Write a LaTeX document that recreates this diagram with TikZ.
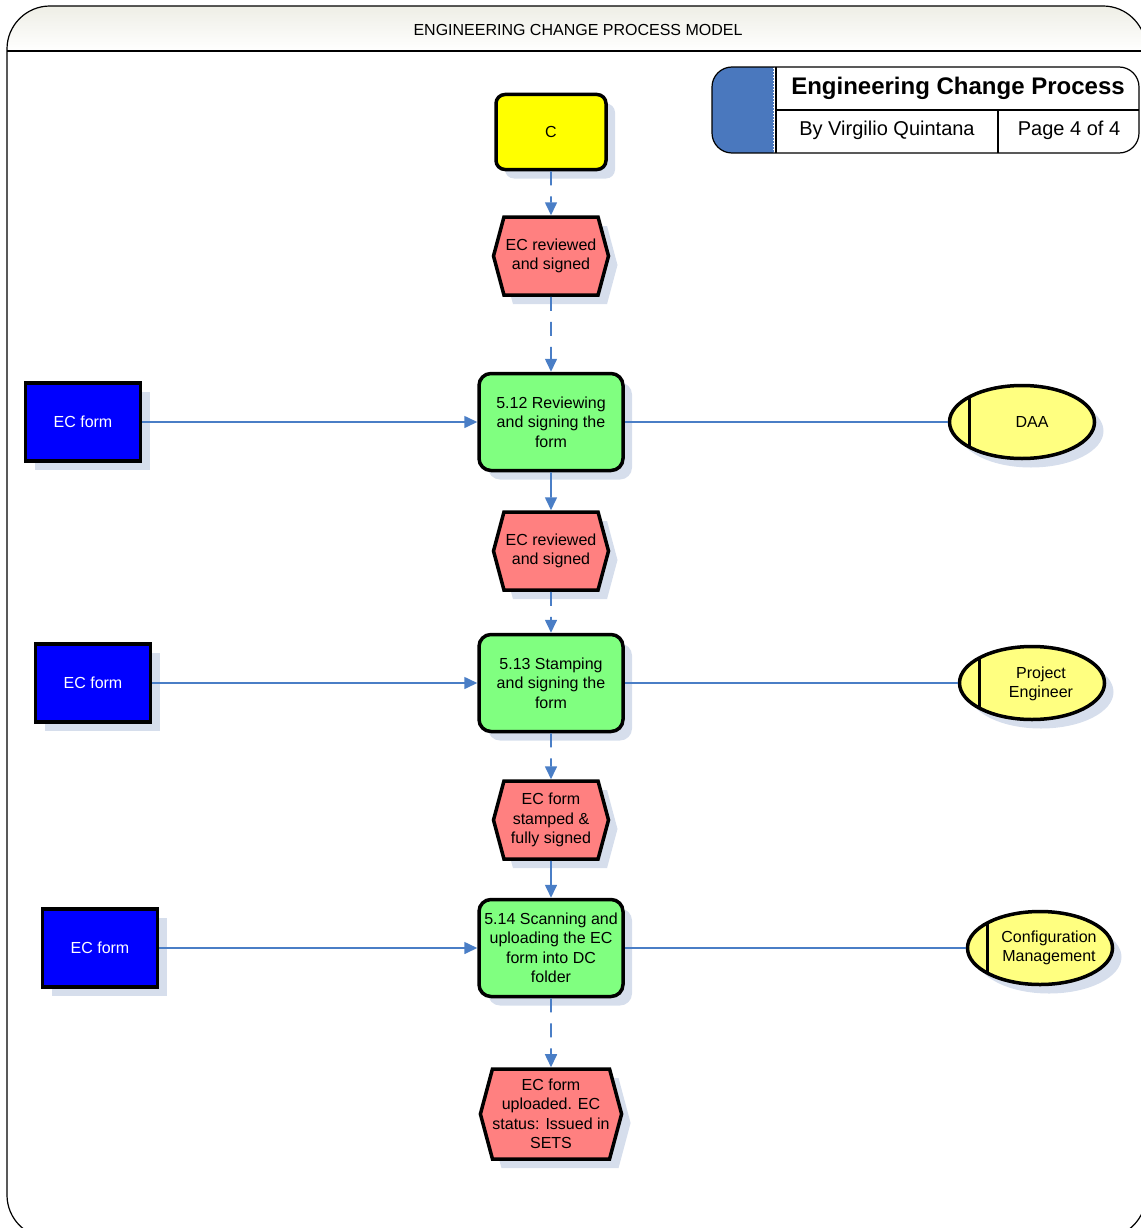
\documentclass[tikz,border=0pt]{standalone}
\usepackage{fontspec}
\setmainfont{Liberation Sans}
\usetikzlibrary{positioning,arrows.meta,shapes.geometric,shapes.symbols,shadows}
\definecolor{linkblue}{RGB}{74,126,198}
\definecolor{startyellow}{RGB}{255,255,0}
\definecolor{eventred}{RGB}{255,128,128}
\definecolor{funcgreen}{RGB}{128,255,128}
\definecolor{formblue}{RGB}{0,0,255}
\definecolor{roleyellow}{RGB}{255,255,128}
\definecolor{shadowc}{RGB}{214,222,236}
\definecolor{titleblue}{RGB}{74,120,190}
\definecolor{hdrtop}{RGB}{236,236,226}

\begin{document}
\begin{tikzpicture}[x=1pt,y=-1pt]
\tikzset{
  base/.style={draw,line width=3.5pt,font=\fontsize{16}{19.5}\selectfont,align=center,inner sep=0pt,
    drop shadow={shadow xshift=9pt,shadow yshift=-9pt,fill=shadowc,opacity=1}},
  startbox/.style={base,rounded corners=9pt,fill=startyellow,minimum width=110pt,minimum height=75pt},
  event/.style={base,signal,signal to=west and east,signal pointer angle=150,fill=eventred,minimum width=115pt,minimum height=78pt},
  func/.style={base,rounded corners=12pt,fill=funcgreen,minimum width=144pt,minimum height=97pt},
  form/.style={base,fill=formblue,text=white,minimum width=115pt,minimum height=78pt},
  role/.style={base,ellipse,fill=roleyellow,minimum width=145pt,minimum height=73pt,
    path picture={\draw[line width=3.5pt] ([xshift=20pt]path picture bounding box.north west) -- ([xshift=20pt]path picture bounding box.south west);}},
  rolelabel/.style={font=\fontsize{16}{19.5}\selectfont,align=center},
  link/.style={linkblue,line width=1.6pt},
  dashlink/.style={link,dash pattern=on 14pt off 11pt},
  tip/.style={-{Triangle[length=13pt,width=12pt]}}
}
\useasboundingbox (0,0) rectangle (1140,1228);

% frame and header
\begin{scope}
\clip[rounded corners=43pt] (7,6) rectangle (1146,1238);
\shade[top color=hdrtop,bottom color=white] (0,0) rectangle (1150,51);
\end{scope}
\draw[line width=1.2pt,rounded corners=43pt] (7,6) rectangle (1146,1238);
\draw[line width=1.2pt] (7,51) -- (1146,51);
\node[font=\fontsize{16}{19}\selectfont] (hdr) at (578,30) {ENGINEERING CHANGE PROCESS MODEL};

% title block
\begin{scope}
\clip[rounded corners=20pt] (712,67) rectangle (1139,153);
\fill[titleblue] (712,67) rectangle (774,153);
\end{scope}
\draw[line width=1.2pt,rounded corners=20pt] (712,67) rectangle (1139,153);
\draw[white,dotted,line width=1pt] (773,68) -- (773,152);
\draw[line width=1.2pt] (776,67) -- (776,153) (776,110) -- (1139,110) (998,110) -- (998,153);
\node[font=\fontsize{24}{28}\selectfont\bfseries] (ttl) at (958,88) {Engineering Change Process};
\node[font=\fontsize{20}{24}\selectfont] (auth) at (887,130) {By Virgilio Quintana};
\node[font=\fontsize{20}{24}\selectfont] (page) at (1069,130) {Page 4 of 4};

% main column
\node[startbox] (c) at (551,132) {C};
\node[event] (ev1) at (551,256) {EC reviewed\\and signed};
\node[func] (rev) at (551,422) {5.12 Reviewing\\and signing the\\form};
\node[event] (ev2) at (551,551) {EC reviewed\\and signed};
\node[func] (stamp) at (551,683) {5.13 Stamping\\and signing the\\form};
\node[event] (ev3) at (551,820) {EC form\\stamped \&\\fully signed};
\node[func] (scan) at (551,948) {5.14 Scanning and\\uploading the EC\\form into DC\\folder};
\node[event,minimum width=130pt,minimum height=90pt] (ev4) at (551,1114) {EC form\\uploaded. EC\\status: Issued in\\SETS};

% inputs and roles
\node[form] (form1) at (83,422) {EC form};
\node[form] (form2) at (93,683) {EC form};
\node[form] (form3) at (100,948) {EC form};
\node[role,label={[xshift=10pt,rolelabel]center:DAA}] (daa) at (1022,422) {};
\node[role,label={[xshift=9pt,yshift=-1pt,rolelabel]center:Project\\Engineer}] (pe) at (1032,683) {};
\node[role,label={[xshift=9pt,rolelabel]center:Configuration\\Management}] (cm) at (1040,948) {};

% flow
\draw[dashlink,tip] (c) -- (ev1);
\draw[dashlink,tip] (ev1) -- (rev);
\draw[link,tip] (rev) -- (ev2);
\draw[dashlink,tip] (ev2) -- (stamp);
\draw[dashlink,tip] (stamp) -- (ev3);
\draw[link,tip] (ev3) -- (scan);
\draw[dashlink,tip] (scan) -- (ev4);
\draw[link,tip] (form1) -- (rev);
\draw[link,tip] (form2) -- (stamp);
\draw[link,tip] (form3) -- (scan);
\draw[link] (rev) -- (daa);
\draw[link] (stamp) -- (pe);
\draw[link] (scan) -- (cm);
\end{tikzpicture}
\end{document}
